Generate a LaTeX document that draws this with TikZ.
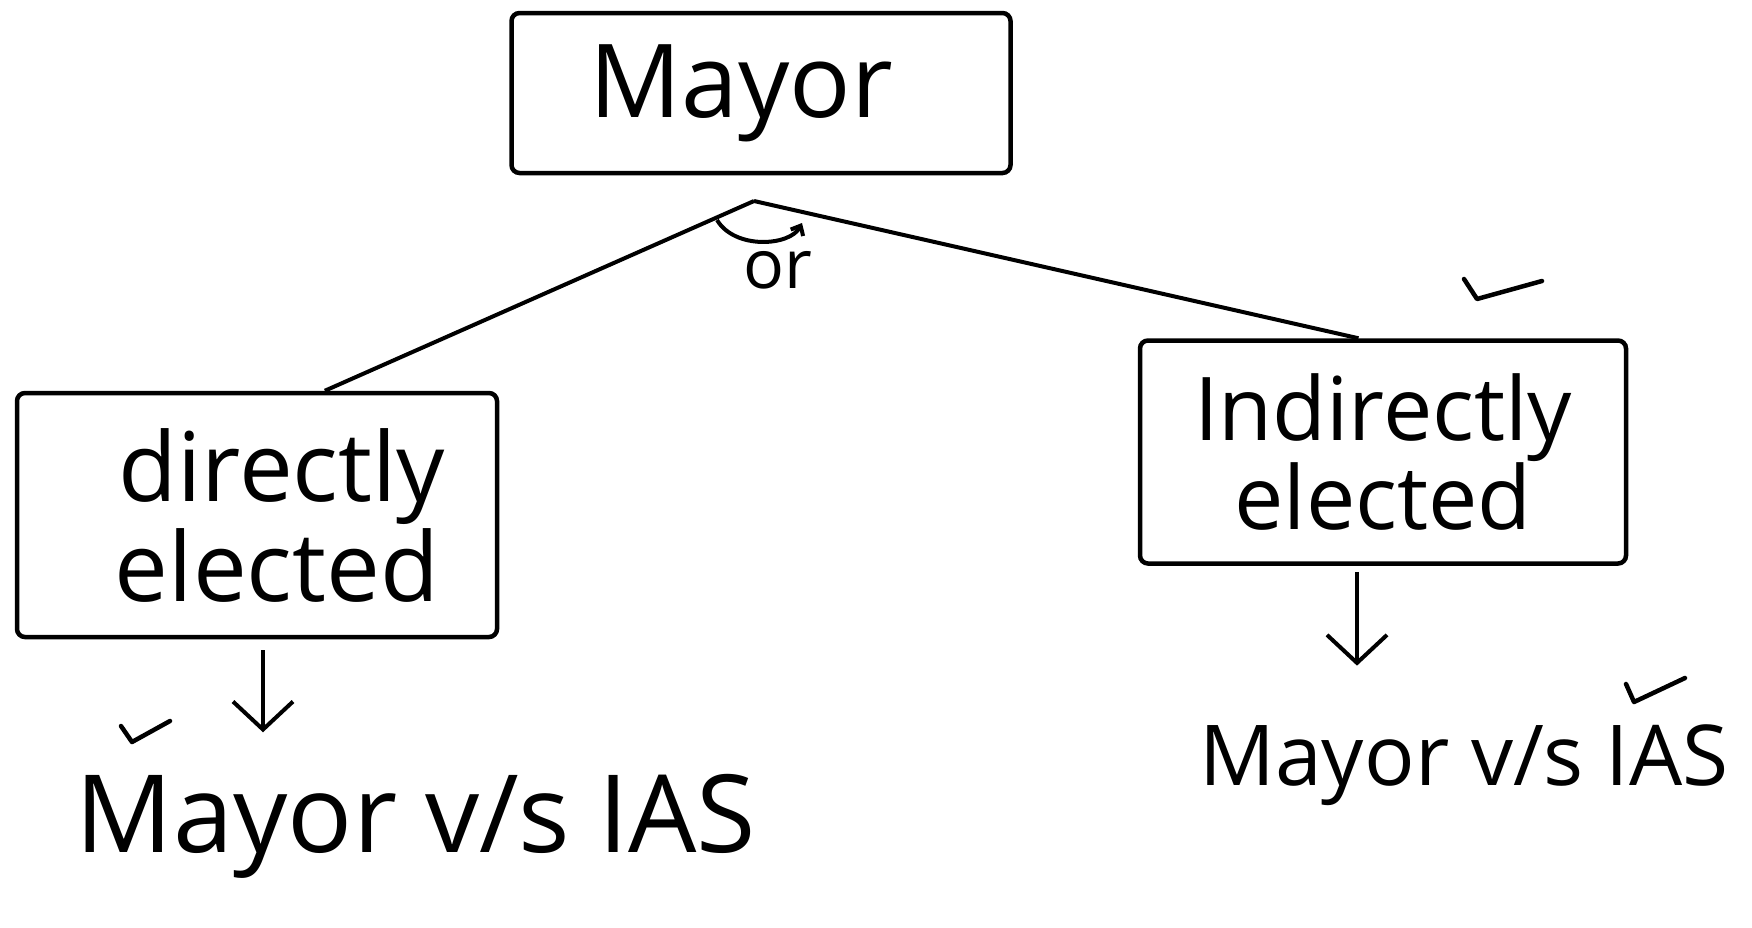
\documentclass[tikz,border=0pt]{standalone}
\usepackage{fontspec}
\setmainfont{Open Sans}
\usetikzlibrary{arrows.meta,calc}

\tikzset{
  >={Straight Barb[length=28pt,width=60pt]},   % open V head
  box/.style={draw, line width=4.5pt, rounded corners=8pt, align=center},
  link/.style={line width=4pt},
  tickmark/.style={line width=4.5pt, line cap=round, line join=round},
}

\begin{document}
\begin{tikzpicture}[x=1pt,y=-1pt]
	\useasboundingbox (0,0) rectangle (1752,927);
	% boxes
	\node[box, minimum width=499pt, minimum height=160pt,
		font=\fontsize{102}{100}\selectfont] (mayor) at (761,93) {Mayor\hspace*{40pt}};
	\node[box, minimum width=480pt, minimum height=244pt,
		font=\fontsize{96}{100}\selectfont] (direct) at (257,515) {\hspace*{50pt}directly\\\hspace*{40pt}elected};
	\node[box, minimum width=486pt, minimum height=223pt,
		font=\fontsize{88}{80}\selectfont] (indirect) at (1383,452) {Indirectly\\elected};

	% results
	\node[anchor=base, font=\fontsize{108}{100}\selectfont] (directvs) at (416,852) {Mayor v/s IAS};
	\node[anchor=base, font=\fontsize{84}{82}\selectfont] (indirectvs) at (1464,785) {Mayor v/s IAS};

	% split
	\coordinate (apex) at (754,201);
	\draw[link] (apex) -- ($(direct.north west)!0.64!(direct.north east)$);
	\draw[link] (apex) -- ($(indirect.north west)!0.45!(indirect.north east)$);
	\node[font=\fontsize{68}{68}\selectfont] (orlabel) at (778,270) {or};
	\draw[link, -{Straight Barb[length=8pt,width=14pt]}]
		(717,220) .. controls (735,250) and (790,246) .. (802,223);

	% arrows
	\draw[link, ->, shorten <=11pt, shorten >=38pt]
		([xshift=6pt]direct.south) -- ([xshift=6pt]direct.south |- directvs.north);
	\draw[link, ->, shorten <=6pt, shorten >=55pt]
		([xshift=-26pt]indirect.south) -- ([xshift=-26pt]indirect.south |- indirectvs.north);

	% ticks
	\draw[tickmark] (1464,279) -- (1477,299) -- (1542,281);
	\draw[tickmark] (1626,684) -- (1634,702) -- (1685,678);
	\draw[tickmark] (121,726) -- (132,742) -- (170,721);
\end{tikzpicture}
\end{document}
